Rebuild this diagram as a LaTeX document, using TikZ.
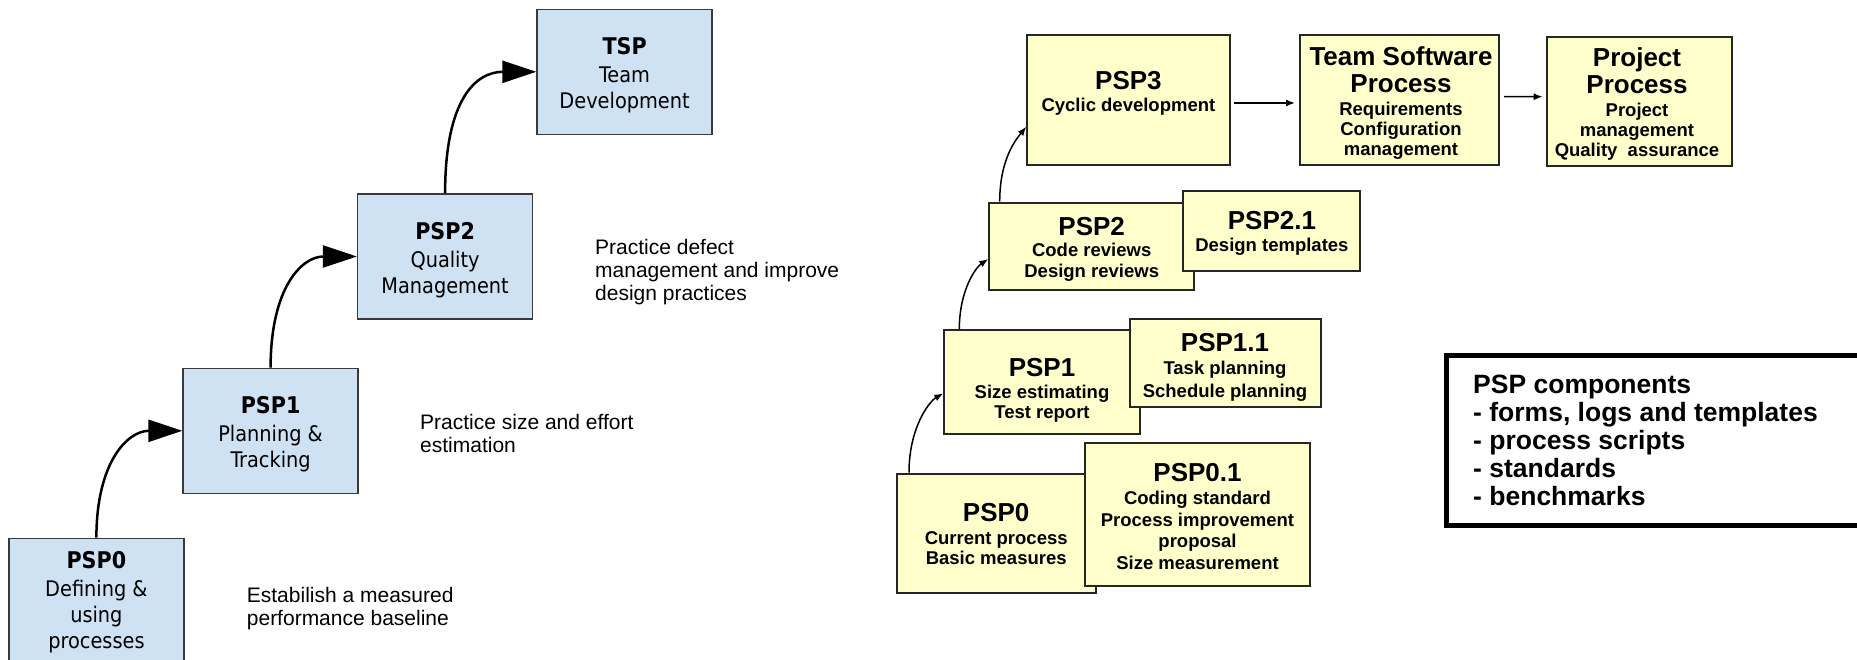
\documentclass[tikz,border=0pt]{standalone}
\usepackage{fontspec}
\usetikzlibrary{arrows.meta,calc}
\newfontfamily\lfont{DejaVu Sans Condensed}
\newfontfamily\afont{Liberation Sans}
\definecolor{lblue}{HTML}{CFE2F3}
\definecolor{lyellow}{HTML}{FFFFCC}
\definecolor{lborder}{HTML}{3A3A3A}
\setlength{\lineskiplimit}{-100pt}
\newcommand\ltitle[1]{{\fontsize{23}{28}\selectfont\bfseries #1}}
\newcommand\ytitle[1]{{\fontsize{26}{28}\selectfont #1}}
\begin{document}
\begin{tikzpicture}[x=1pt,y=-1pt,
  lbox/.style={draw=lborder, line width=1.5pt, fill=lblue, minimum width=175pt, minimum height=125pt, inner sep=0pt},
  ybox/.style={draw=black!85, line width=2pt, fill=lyellow, inner sep=0pt},
  ltext/.style={anchor=base, align=center, inner sep=0pt, font=\lfont\fontsize{21.5}{26}\selectfont},
  ytext/.style={anchor=base, align=center, inner sep=0pt, font=\afont\bfseries\fontsize{18.5}{21}\selectfont},
  desc/.style={anchor=base west, align=left, inner sep=0pt, font=\afont\fontsize{21}{23}\selectfont},
  bigarrow/.style={line width=2.5pt, -{Triangle[length=34pt,width=22pt]}},
  smallarrow/.style={line width=1.5pt, -{Latex[length=9pt,width=7pt]}},
]
\useasboundingbox (0,0) rectangle (1857,660);
\clip (0,0) rectangle (1857,660);
\fill[white] (0,0) rectangle (1857,660);

% ---------- left staircase ----------
\node[lbox] (tsp)   at (624.6, 71.8) {};
\node[lbox] (psp2l) at (445.1, 256.5) {};
\node[lbox] (psp1l) at (270.6, 430.8) {};
\node[lbox] (psp0l) at (96.4, 600.8) {};

% anchor=base of a multi-line node = baseline of its last line
\node[ltext] (tsp-t)   at (624.6, 108.6) {\ltitle{TSP}\\[2pt] Team\\ Development};
\node[ltext] (psp2l-t) at (445.1, 293.4) {\ltitle{PSP2}\\[2pt] Quality\\ Management};
\node[ltext] (psp1l-t) at (270.6, 467.2) {\ltitle{PSP1}\\[2pt] Planning \&\\ Tracking};
\node[ltext] (psp0l-t) at (96.4, 648.3)  {\ltitle{PSP0}\\[2pt] Defining \&\\ using\\ processes};

\draw[bigarrow] (psp0l.north) .. controls +(0,-75) and +(-55,0) .. (psp1l.west);
\draw[bigarrow] (psp1l.north) .. controls +(0,-80) and +(-55,0) .. (psp2l.west);
\draw[bigarrow] (psp2l.north) .. controls +(0,-95) and +(-60,0) .. (tsp.west);

\node[desc] (d0) at (246.7, 625.7) {Estabilish a measured\\performance baseline};
\node[desc] (d1) at (420, 452) {Practice size and effort\\estimation};
\node[desc] (d2) at (595, 300.6) {Practice defect\\management and improve\\design practices};

% ---------- right diagram ----------
\node[ybox, minimum width=202.2pt, minimum height=130.4pt] (psp3) at (1128.4, 100) {};
\node[ybox, minimum width=199pt, minimum height=130.5pt] (tspr) at (1399.5, 100.25) {};
\node[ybox, minimum width=185.6pt, minimum height=128.4pt] (proj) at (1639.5, 101.5) {};
\node[ybox, minimum width=204.7pt, minimum height=87.8pt] (psp2r) at (1091.65, 246.5) {};
\node[ybox, minimum width=177pt, minimum height=79.1pt] (psp21) at (1271.9, 231.05) {};
\node[ybox, minimum width=195.5pt, minimum height=104pt] (psp1r) at (1042.05, 382.4) {};
\node[ybox, minimum width=190.7pt, minimum height=88.8pt] (psp11) at (1225.15, 363) {};
\node[ybox, minimum width=198.8pt, minimum height=119.9pt] (psp0r) at (996.2, 533.45) {};
\node[ybox, minimum width=224.7pt, minimum height=142.4pt] (psp01) at (1197.65, 514.5) {};

\node[ytext] (psp3-t) at (1128.4, 111.7) {\ytitle{PSP3}\\[1.4pt] Cyclic development};
\node[ytext] (tspr-t) at (1401, 155.3) {\ytitle{Team Software}\\[6.6pt]\ytitle{Process}\\[1.4pt] Requirements\\[-1pt] Configuration\\[-1pt] management};
\node[ytext] (proj-t) at (1637, 156.7) {\ytitle{Project}\\[6.3pt]\ytitle{Process}\\[1.7pt] Project\\[-1pt] management\\[-1pt] Quality\ \ assurance};
\node[ytext] (psp2r-t) at (1091.7, 277.8) {\ytitle{PSP2}\\ Code reviews\\ Design reviews};
\node[ytext] (psp21-t) at (1271.9, 251.7) {\ytitle{PSP2.1}\\[1.3pt] Design templates};
\node[ytext] (psp1r-t) at (1042, 418.8) {\ytitle{PSP1}\\[1.3pt] Size estimating\\[-1pt] Test report};
\node[ytext] (psp11-t) at (1225, 397.7) {\ytitle{PSP1.1}\\[2.5pt] Task planning\\[2pt] Schedule planning};
\node[ytext] (psp0r-t) at (996.2, 564.5) {\ytitle{PSP0}\\[2pt] Current process\\[-1pt] Basic measures};
\node[ytext] (psp01-t) at (1197.5, 569) {\ytitle{PSP0.1}\\[2pt] Coding standard\\[0.5pt] Process improvement\\[0.5pt] proposal\\[0.5pt] Size measurement};

\draw[smallarrow] ($(psp0r.north west)+(13.2,0)$) .. controls +(0,-45) and +(-14,8) .. ($(psp1r.west)+(0,11)$);
\draw[smallarrow] ($(psp1r.north west)+(16,0)$) .. controls +(0,-40) and +(-12,8) .. ($(psp2r.west)+(0,12.5)$);
\draw[smallarrow] ($(psp2r.north west)+(11.4,0)$) .. controls +(0,-45) and +(-8,10) .. ($(psp3.west)+(0,26.7)$);
\draw[smallarrow] ($(psp3.east)+(3,3)$) -- ($(tspr.west)+(-4,2.75)$);
\draw[smallarrow] ($(tspr.east)+(4,-3.5)$) -- ($(proj.west)+(-3,-4.8)$);

% ---------- PSP components ----------
\draw[line width=5pt] (1446.5,355.8) rectangle (1900,525.5);
\node[anchor=base west, align=left, inner sep=0pt, font=\afont\bfseries\fontsize{26.5}{28}\selectfont] (comp-t) at (1473, 505)
  {PSP components\\- forms, logs and templates\\- process scripts\\- standards\\- benchmarks};
\end{tikzpicture}
\end{document}
